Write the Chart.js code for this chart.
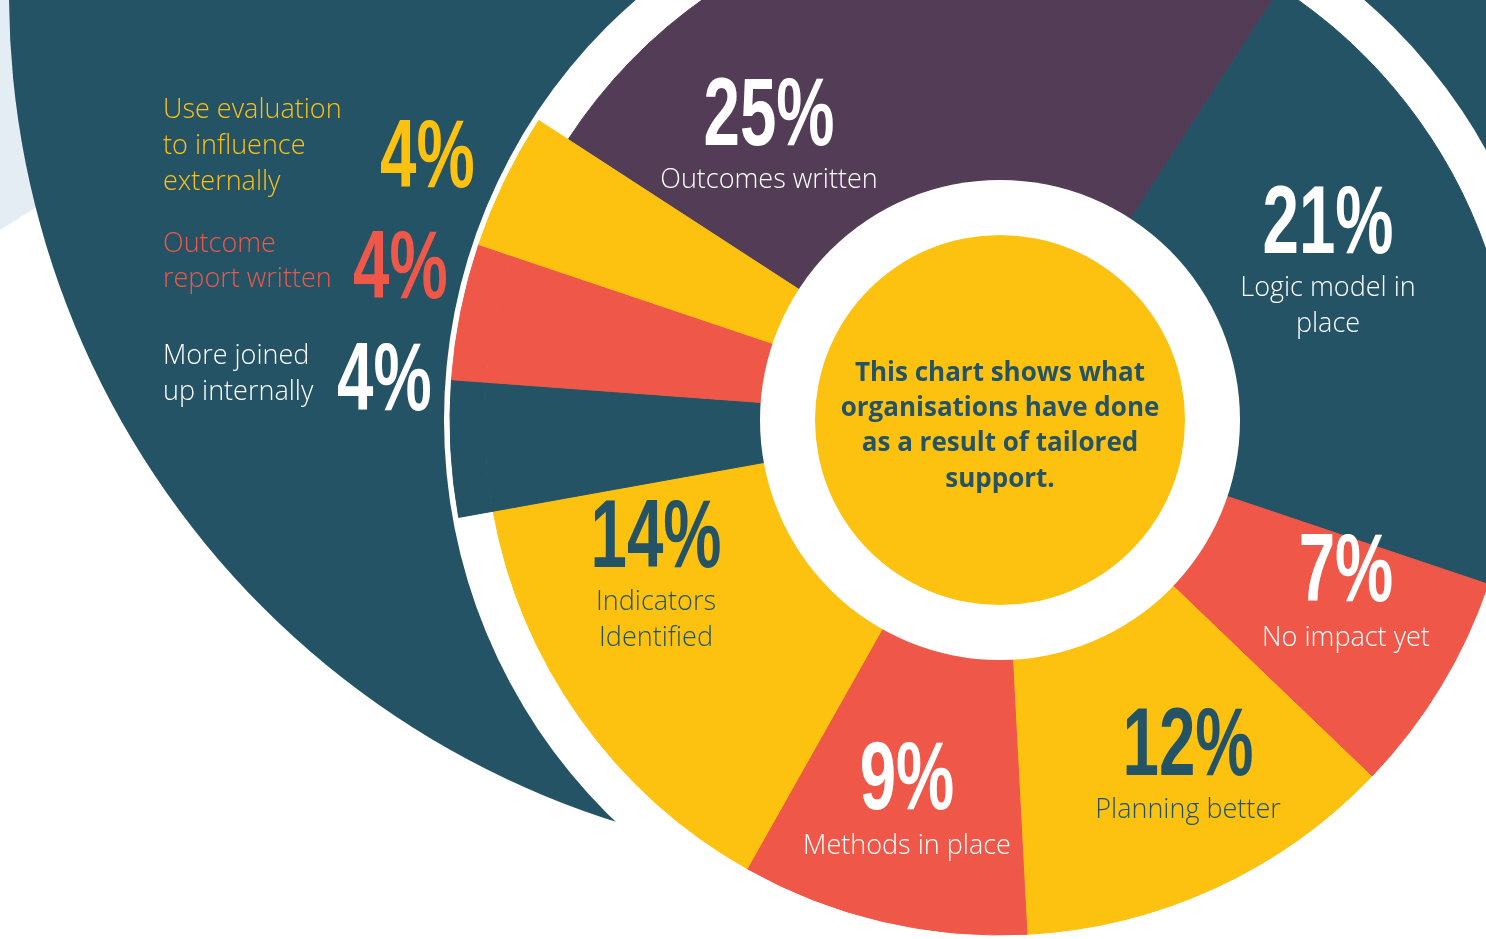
<!DOCTYPE html>
<html>
<head>
<meta charset="utf-8">
<script src="https://cdn.jsdelivr.net/npm/chart.js@4.4.1/dist/chart.umd.min.js"></script>
<style>
html,body{margin:0;padding:0;background:#fff;overflow:hidden}
#wrap{width:1486px;height:939px;position:relative}
canvas{display:block}
</style>
</head>
<body>
<div id="wrap"><canvas id="c" width="1486" height="939"></canvas></div>
<script>
// ---- data ----
const categories = [
  ["Outcomes written"],
  ["Logic model in", "place"],
  ["No impact yet"],
  ["Planning better"],
  ["Methods in place"],
  ["Indicators", "Identified"],
  ["More joined", "up internally"],
  ["Outcome", "report written"],
  ["Use evaluation", "to influence", "externally"]
];
const percentages = [25, 21, 7, 12, 9, 14, 4, 4, 4];
const valueLabels = ["25%", "21%", "7%", "12%", "9%", "14%", "4%", "4%", "4%"];
const centerText = ["This chart shows what", "organisations have done", "as a result of tailored", "support."];

// ---- styling ----
const TEAL = '#245365', PURPLE = '#533c55', RED = '#ef5748', YELLOW = '#fdc110', LIGHT = '#e3edf3';
const sliceColors = [PURPLE, TEAL, RED, YELLOW, RED, YELLOW, TEAL, RED, YELLOW];
const labelColors = ['#fff', '#fff', '#fff', TEAL, '#fff', TEAL, '#fff', RED, YELLOW];
const labelledOutside = [false, false, false, false, false, false, true, true, true];

// label layout (canvas pixels): x, percent baseline, text baselines, alignment, percent x for outside labels
const labelLayout = [
  {x: 769,  pb: 145, tb: [188], align: 'center'},
  {x: 1328, pb: 253, tb: [296, 332], align: 'center'},
  {x: 1346, pb: 601, tb: [646], align: 'center'},
  {x: 1188, pb: 775, tb: [818], align: 'center'},
  {x: 907,  pb: 809, tb: [854], align: 'center'},
  {x: 656,  pb: 567, tb: [610, 646], align: 'center'},
  {x: 163,  pb: 410, tb: [364, 400], align: 'left', px: 337},
  {x: 163,  pb: 298, tb: [252, 287], align: 'left', px: 353},
  {x: 163,  pb: 187, tb: [118, 154, 190], align: 'left', px: 380}
];

const PCT_FONT = "bold 97px 'Liberation Sans', Arial, sans-serif";
const PCT_REF_WIDTH = 131; // width of "25%" in the picture
const LABEL_FONT = "300 27px 'Open Sans'";
const CENTER_FONT = "bold 26px 'Open Sans'";
let pctScale = null;

function drawPct(ctx, text, x, base, align, color) {
  ctx.save();
  ctx.font = PCT_FONT;
  if (pctScale === null) pctScale = PCT_REF_WIDTH / ctx.measureText("25%").width;
  ctx.fillStyle = color;
  ctx.textAlign = 'left';
  ctx.textBaseline = 'alphabetic';
  const w = ctx.measureText(text).width * pctScale;
  const left = align === 'center' ? x - w / 2 : x;
  ctx.translate(left, base);
  ctx.scale(pctScale, 1);
  ctx.fillText(text, 0, 0);
  ctx.restore();
}

const decor = {
  id: 'decor',
  beforeDraw(chart) {
    const ctx = chart.ctx;
    const a = chart.getDatasetMeta(1).data[0];
    const cx = a.x, cy = a.y;
    ctx.save();
    ctx.fillStyle = '#fff';
    ctx.fillRect(0, 0, chart.width, chart.height);
    ctx.fillStyle = LIGHT;
    ctx.beginPath();
    ctx.moveTo(0, 0); ctx.lineTo(320, 0); ctx.lineTo(320, 30); ctx.lineTo(0, 230);
    ctx.closePath(); ctx.fill();
    ctx.fillStyle = TEAL;
    ctx.beginPath(); ctx.arc(cx - 123, cy - 426, 868, 0, Math.PI * 2); ctx.fill();
    ctx.fillStyle = '#fff';
    ctx.beginPath(); ctx.arc(cx, cy, 556, 0, Math.PI * 2); ctx.fill();
    ctx.restore();
  },
  afterDatasetsDraw(chart) {
    const ctx = chart.ctx;
    const a = chart.getDatasetMeta(1).data[0];
    const cx = a.x, cy = a.y;
    ctx.save();
    ctx.fillStyle = '#fff';
    ctx.beginPath(); ctx.arc(cx, cy, 240, 0, Math.PI * 2); ctx.fill();
    ctx.fillStyle = YELLOW;
    ctx.beginPath(); ctx.arc(cx, cy, 185, 0, Math.PI * 2); ctx.fill();

    ctx.font = CENTER_FONT;
    ctx.fillStyle = TEAL;
    ctx.textAlign = 'center';
    ctx.textBaseline = 'alphabetic';
    const cb = [381, 416, 451, 487];
    centerText.forEach((t, i) => ctx.fillText(t, cx, cb[i]));

    chart.data.labels.forEach((lines, i) => {
      const L = labelLayout[i];
      const col = labelColors[i];
      ctx.font = LABEL_FONT;
      ctx.fillStyle = col;
      ctx.textAlign = L.align;
      ctx.textBaseline = 'alphabetic';
      lines.forEach((t, k) => ctx.fillText(t, L.x, L.tb[k]));
      if (labelledOutside[i]) {
        drawPct(ctx, valueLabels[i], L.px, L.pb, 'left', col);
      } else {
        drawPct(ctx, valueLabels[i], L.x, L.pb, 'center', col);
      }
    });
    ctx.restore();
  }
};

new Chart(document.getElementById('c'), {
  type: 'doughnut',
  data: {
    labels: categories,
    datasets: [
      {
        data: percentages,
        weight: 35,
        backgroundColor: sliceColors.map((c, i) => labelledOutside[i] ? c : 'rgba(0,0,0,0)'),
        borderColor: sliceColors.map((c, i) => labelledOutside[i] ? c : 'rgba(0,0,0,0)'),
        borderWidth: 1
      },
      {
        data: percentages,
        weight: 295,
        backgroundColor: sliceColors,
        borderColor: sliceColors,
        borderWidth: 1
      }
    ]
  },
  options: {
    responsive: false,
    animation: false,
    events: [],
    rotation: -57,
    cutout: '40%',
    radius: 550,
    layout: {padding: {left: 514, right: 0, top: 0, bottom: 99}},
    plugins: {legend: {display: false}, tooltip: {enabled: false}}
  },
  plugins: [decor]
});
</script>
</body>
</html>
